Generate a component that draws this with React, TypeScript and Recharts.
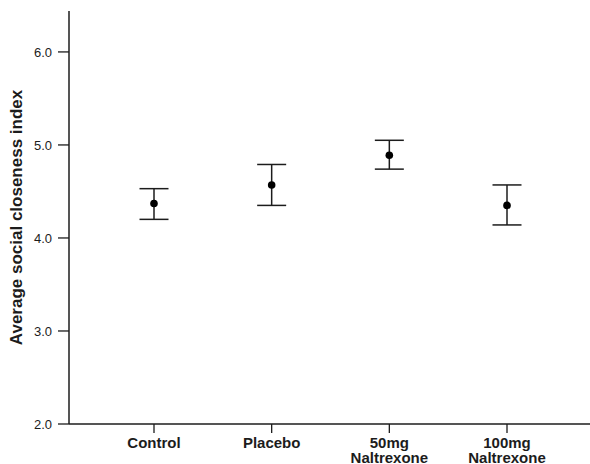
import React from "react";
import {
    LineChart,
    Line,
    XAxis,
    YAxis,
    ErrorBar,
    Label,
} from "recharts";

const groups = ["Control", "Placebo", "50mg Naltrexone", "100mg Naltrexone"];
const means = [4.37, 4.57, 4.89, 4.35];
const lower = [4.2, 4.35, 4.74, 4.14];
const upper = [4.53, 4.79, 5.05, 4.57];
const yTicks = [2, 3, 4, 5, 6];

const FONT = '"Liberation Sans", Arial, Helvetica, sans-serif';
const INK = "#1c1c1c";

const data = groups.map((name, i) => ({
    name,
    mean: means[i],
    err: [means[i] - lower[i], upper[i] - means[i]],
}));

// two-line category labels ("50mg" / "Naltrexone")
const GroupTick = ({ x, y, payload }: any) => {
    const words = String(payload.value).split(" ");
    return (
        <text
            x={x}
            y={y + 13}
            textAnchor="middle"
            fontFamily={FONT}
            fontSize={15}
            fontWeight="bold"
            fill={INK}
        >
            {words.map((w, i) => (
                <tspan key={i} x={x} dy={i === 0 ? 0 : 14.5}>
                    {w}
                </tspan>
            ))}
        </text>
    );
};

const AxisTitle = ({ viewBox }: any) => {
    const cy = viewBox ? viewBox.y + viewBox.height / 2 : 217;
    return (
        <text
            x={22}
            y={cy}
            transform={`rotate(-90, 22, ${cy})`}
            textAnchor="middle"
            fontFamily={FONT}
            fontSize={17}
            fontWeight="bold"
            fill={INK}
        >
            Average social closeness index
        </text>
    );
};

export default function App() {
    return (
        <div
            style={{
                position: "absolute",
                left: 0,
                top: 0,
                width: 590,
                height: 464,
                overflow: "hidden",
                background: "#fff",
            }}
        >
            <LineChart
                width={600}
                height={464}
                data={data}
                margin={{ top: 11, right: 8, bottom: 0, left: 0 }}
            >
                <XAxis
                    dataKey="name"
                    padding={{ left: 85, right: 85 }}
                    height={40}
                    tickSize={9}
                    tickLine={{ stroke: INK, strokeWidth: 1.3 }}
                    axisLine={{ stroke: INK, strokeWidth: 1.5 }}
                    tick={<GroupTick />}
                    interval={0}
                />
                <XAxis
                    xAxisId="top"
                    dataKey="name"
                    orientation="top"
                    height={0}
                    tick={false}
                    tickLine={false}
                    axisLine={{ stroke: INK, strokeWidth: 1.5 }}
                />
                <YAxis
                    width={69}
                    domain={[2, 6.44]}
                    ticks={yTicks}
                    allowDataOverflow
                    tickSize={11}
                    tickMargin={6}
                    tickFormatter={(v: number) => v.toFixed(1)}
                    tick={{ fontFamily: FONT, fontSize: 13, fill: INK }}
                    tickLine={{ stroke: INK, strokeWidth: 1.3 }}
                    axisLine={{ stroke: INK, strokeWidth: 1.5 }}
                >
                    <Label content={<AxisTitle />} />
                </YAxis>
                <Line
                    dataKey="mean"
                    stroke="none"
                    isAnimationActive={false}
                    dot={{ r: 3.8, fill: "#000", stroke: "none" }}
                    activeDot={false}
                >
                    <ErrorBar
                        dataKey="err"
                        width={14.5}
                        stroke={INK}
                        strokeWidth={1.5}
                        isAnimationActive={false}
                    />
                </Line>
            </LineChart>
        </div>
    );
}
